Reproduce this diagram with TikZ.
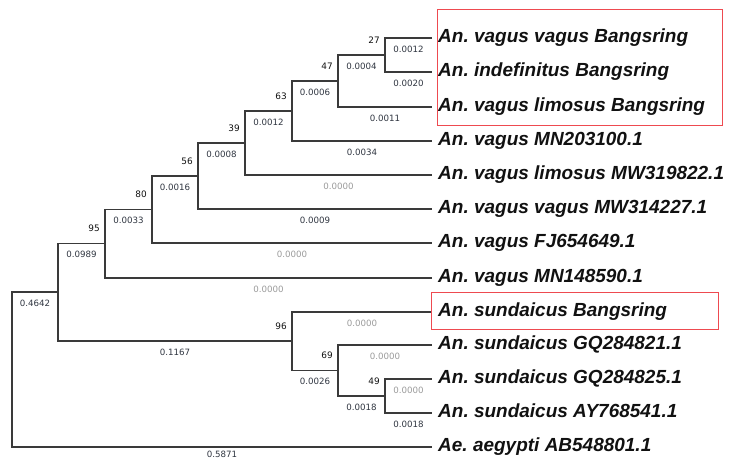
\documentclass[tikz,border=0pt]{standalone}
\usepackage{fontspec}
\usepackage{xcolor}
\usetikzlibrary{calc}
\setmainfont{Liberation Sans}
\newfontfamily\ValueFace{DejaVu Sans}
\frenchspacing
\definecolor{TreeInk}{HTML}{111111}
\definecolor{TreeBranch}{HTML}{3A3A3A}
\definecolor{TreeLength}{HTML}{2F3540}
\definecolor{TreeZero}{HTML}{9A9A9A}
\definecolor{TreeBox}{HTML}{EE4A50}
\newcommand{\TaxonLabel}{\fontsize{16.2}{18}\selectfont\bfseries\itshape}
\newcommand{\SupportLabel}{\ValueFace\fontsize{7.6}{8.2}\selectfont}
\newcommand{\LengthLabel}{\ValueFace\fontsize{7.4}{8.0}\selectfont}
\tikzset{
  branch line/.style={draw=TreeBranch,line width=0.95pt},
  length label/.style={pos=0.75,anchor=center,yshift=-0.33cm,inner sep=0pt,
    text=TreeLength,font=\LengthLabel},
  zero label/.style={length label,text=TreeZero},
  support label/.style={anchor=east,inner sep=0pt,text=TreeInk,font=\SupportLabel},
  taxon label/.style={anchor=west,xshift=0.18cm,yshift=-0.05cm,inner sep=0pt,
    text height=0.75em,text depth=0.25em,text=TreeInk,font=\TaxonLabel},
  highlight box/.style={draw=TreeBox,line width=0.8pt}
}

\begin{document}
\begin{tikzpicture}[x=0.03cm,y=-0.03cm]
  % one unit = one pixel of the 731 x 461 source, y grows downwards
  \path[use as bounding box] (0,0) rectangle (731,461);

  \def\xtip{432}

  % tips, top to bottom
  \foreach \tip/\yy/\taxon in {
      l1/38/An. vagus vagus Bangsring,
      l2/72/An. indefinitus Bangsring,
      l3/107/An. vagus limosus Bangsring,
      l4/141/An. vagus MN203100.1,
      l5/175/An. vagus limosus MW319822.1,
      l6/209/An. vagus vagus MW314227.1,
      l7/243/An. vagus FJ654649.1,
      l8/278/An. vagus MN148590.1,
      l9/312/An. sundaicus Bangsring,
      l10/345/An. sundaicus GQ284821.1,
      l11/379/An. sundaicus GQ284825.1,
      l12/413/An. sundaicus AY768541.1,
      l13/447/Ae. aegypti AB548801.1}{
    \coordinate (\tip) at (\xtip,\yy);
    \node[taxon label] (t\tip) at (\tip) {\taxon};
  }

  % internal nodes
  \coordinate (n27) at (385,55);
  \coordinate (n47) at (338,81);
  \coordinate (n63) at (292,111);
  \coordinate (n39) at (245,143);
  \coordinate (n56) at (198,176);
  \coordinate (n80) at (152,209.5);
  \coordinate (n95) at (105,243.7);
  \coordinate (nin) at (58,292);
  \coordinate (root) at (12,369.5);
  \coordinate (n96) at (292,341);
  \coordinate (n69) at (338,370.5);
  \coordinate (n49) at (385,396);

  \newcommand{\treelink}[4]{%
    \draw[branch line] (#1) |- node[#4] {#3} (#2);%
  }
  \treelink{n27}{l1}{0.0012}{length label}
  \treelink{n27}{l2}{0.0020}{length label}
  \treelink{n47}{n27}{0.0004}{length label}
  \treelink{n47}{l3}{0.0011}{length label}
  \treelink{n63}{n47}{0.0006}{length label}
  \treelink{n63}{l4}{0.0034}{length label}
  \treelink{n39}{n63}{0.0012}{length label}
  \treelink{n39}{l5}{0.0000}{zero label}
  \treelink{n56}{n39}{0.0008}{length label}
  \treelink{n56}{l6}{0.0009}{length label}
  \treelink{n80}{n56}{0.0016}{length label}
  \treelink{n80}{l7}{0.0000}{zero label}
  \treelink{n95}{n80}{0.0033}{length label}
  \treelink{n95}{l8}{0.0000}{zero label}
  \treelink{nin}{n95}{0.0989}{length label}
  \treelink{nin}{n96}{0.1167}{length label}
  \treelink{n96}{l9}{0.0000}{zero label}
  \treelink{n96}{n69}{0.0026}{length label}
  \treelink{n69}{l10}{0.0000}{zero label}
  \treelink{n69}{n49}{0.0018}{length label}
  \treelink{n49}{l11}{0.0000}{zero label}
  \treelink{n49}{l12}{0.0018}{length label}
  \treelink{root}{nin}{0.4642}{length label}
  % bottom value sits on the lower edge, lifted a little to stay whole
  \treelink{root}{l13}{0.5871}{length label,yshift=0.1cm}

  % bootstrap values
  \foreach \nd/\val in {n27/27,n47/47,n63/63,n39/39,n56/56,n80/80,n95/95,
      n96/96,n69/69,n49/49}{
    \node[support label] (s\nd) at ($(\nd)+(-5,-15)$) {\val};
  }

  % Bangsring samples
  \draw[highlight box] (437,9.5) rectangle (722.5,125);
  \draw[highlight box] (431,292) rectangle (718,329);
\end{tikzpicture}
\end{document}
